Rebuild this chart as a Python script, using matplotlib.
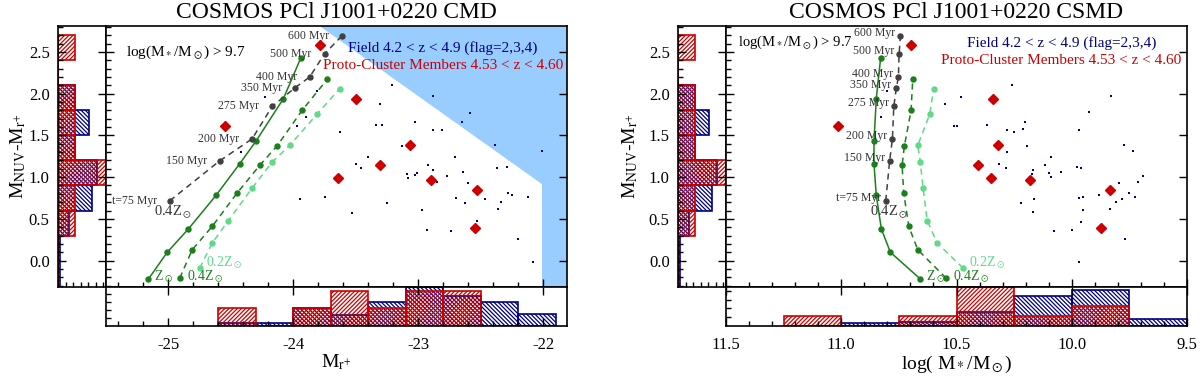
import matplotlib.pyplot as plt
import numpy as np
from matplotlib.ticker import MultipleLocator

plt.rcParams['font.family'] = ['Liberation Serif', 'DejaVu Serif']
plt.rcParams['mathtext.fontset'] = 'stix'
plt.rcParams['hatch.linewidth'] = 0.9

NAVY = '#000080'
RED = '#cc0000'
SKY = '#99ccff'
GREY = '#404040'
DKGREEN = '#1b7f1b'
LTGREEN = '#5fd98a'

# field galaxies, CMD panel (M_r+, colour)
field_mr = [-24.23, -23.81, -23.90, -23.97, -23.63, -24.42, -23.21, -22.88, -23.31, -22.59,
            -22.65, -23.03, -23.34, -23.29, -22.88, -22.81, -22.39, -23.13, -22.01, -23.40,
            -23.50, -23.46, -22.71, -22.92, -22.88, -23.09, -23.08, -23.03, -23.01, -22.77,
            -22.85, -22.64, -22.60, -22.37, -22.29, -23.95, -23.75, -23.53, -23.25, -22.97,
            -22.70, -22.63, -22.47, -22.34, -22.36, -22.28, -22.25, -22.12, -22.53, -22.93,
            -22.74, -22.20, -22.08]
field_col_cmd = [1.959, 2.035, 1.723, 1.615, 1.535, 1.295, 2.103, 1.966, 1.871, 1.771,
                 1.655, 1.663, 1.627, 1.624, 1.567, 1.559, 1.384, 1.367, 1.307, 1.247,
                 1.156, 1.115, 1.247, 1.151, 1.088, 1.040, 0.992, 1.031, 1.055, 1.016,
                 0.944, 1.067, 0.928, 1.108, 1.120, 0.736, 0.760, 0.576, 0.695, 0.608,
                 0.748, 0.695, 0.736, 0.707, 0.616, 0.808, 0.791, 0.767, 0.472, 0.368,
                 0.353, 0.260, -0.016]

# field galaxies, CSMD panel (log M*, colour)
field_mass = [10.258, 10.80, 9.830, 10.480, 10.552, 9.923, 10.829, 10.204, 10.367, 10.512,
              10.497, 10.212, 10.283, 9.968, 10.251, 9.773, 10.193, 9.736, 10.280, 10.091,
              10.316, 10.117, 9.978, 9.961, 10.287, 10.168, 10.048, 10.099, 10.171, 9.693,
              10.088, 9.712, 9.794, 9.751, 9.881, 9.726, 9.952, 9.967, 10.164, 9.784,
              9.806, 10.222, 9.836, 9.953, 10.170, 9.961, 10.001, 10.077, 9.771, 9.967]
field_col_csmd = [2.107, 2.026, 1.966, 1.959, 1.879, 1.775, 1.715, 1.659, 1.627, 1.615,
                  1.615, 1.579, 1.567, 1.559, 1.535, 1.379, 1.367, 1.307, 1.295, 1.247,
                  1.159, 1.147, 1.120, 1.115, 1.108, 1.088, 1.067, 1.055, 1.036, 1.019,
                  1.000, 0.947, 0.928, 0.808, 0.788, 0.767, 0.760, 0.748, 0.736, 0.736,
                  0.707, 0.695, 0.616, 0.608, 0.580, 0.468, 0.368, 0.360, 0.264, -0.012]

# proto-cluster members
pc_mr = [-24.55, -23.79, -23.50, -23.31, -23.64, -23.07, -22.90, -22.53, -22.55]
pc_mass = [11.013, 10.697, 10.342, 10.406, 10.352, 10.320, 10.181, 9.833, 9.874]
pc_col = [1.615, 2.578, 1.930, 1.150, 0.985, 1.387, 0.968, 0.848, 0.392]

# model tracks
ages = [75, 150, 200, 275, 350, 400, 500, 600]
grey_mr = [-24.99, -24.59, -24.33, -24.17, -23.99, -23.87, -23.75, -23.61]
grey_mass = [10.807, 10.790, 10.778, 10.772, 10.761, 10.752, 10.749, 10.743]
grey_col = [0.716, 1.195, 1.459, 1.847, 2.067, 2.199, 2.478, 2.694]

solar_mr = [-25.16, -25.01, -24.84, -24.62, -24.43, -24.30, -24.08, -23.94]
solar_mass = [10.657, 10.787, 10.826, 10.848, 10.858, 10.858, 10.848, 10.829]
solar_col = [-0.22, 0.10, 0.38, 0.78, 1.16, 1.43, 1.94, 2.43]

z04_mr = [-24.91, -24.81, -24.65, -24.45, -24.27, -24.13, -23.93, -23.73]
z04_mass = [10.545, 10.668, 10.707, 10.729, 10.736, 10.726, 10.697, 10.690]
z04_col = [-0.21, 0.13, 0.41, 0.81, 1.14, 1.375, 1.80, 2.17]

z02_mr = [-24.75, -24.65, -24.52, -24.33, -24.17, -24.03, -23.81, -23.63]
z02_mass = [10.471, 10.584, 10.627, 10.645, 10.657, 10.668, 10.616, 10.599]
z02_col = [-0.09, 0.21, 0.48, 0.87, 1.18, 1.38, 1.755, 2.06]

# excluded region in the CMD
region_mr = [-23.79, -22.01, -22.01, -21.81, -21.81]
region_col = [2.81, 0.916, -0.31, -0.31, 2.81]

# normalised histograms
col_edges = [-0.3, 0.0, 0.3, 0.6, 0.9, 1.2, 1.5, 1.8, 2.1, 2.4, 2.7]
col_field_frac = [0.015, 0.015, 0.076, 0.226, 0.261, 0.111, 0.204, 0.111, 0.0, 0.0]
col_pc_frac = [0.0, 0.0, 0.111, 0.111, 0.333, 0.111, 0.111, 0.111, 0.0, 0.111]

mr_edges = [-24.6, -24.3, -24.0, -23.7, -23.4, -23.1, -22.8, -22.5, -22.2, -21.9]
mr_field_frac = [0.016, 0.016, 0.111, 0.069, 0.151, 0.242, 0.189, 0.151, 0.074]
mr_pc_frac = [0.111, 0.0, 0.111, 0.222, 0.111, 0.222, 0.222, 0.0, 0.0]

mass_edges = [11.25, 11.0, 10.75, 10.5, 10.25, 10.0, 9.75, 9.5]
mass_field_frac = [0.0, 0.035, 0.046, 0.162, 0.347, 0.413, 0.078]
mass_pc_frac = [0.111, 0.0, 0.111, 0.444, 0.111, 0.222, 0.0]

YLIM = (-0.31, 2.81)
W, H = 1200, 376


def px_box(x0, y0, x1, y1):
    #pixel box (top-left origin) -> figure fraction rect
    return [x0 / W, 1 - y1 / H, (x1 - x0) / W, (y1 - y0) / H]


def frame(ax):
    for s in ax.spines.values():
        s.set_linewidth(1.2)
    ax.tick_params(which='both', direction='in', width=1.0, labelsize=12)
    ax.tick_params(which='major', length=6)
    ax.tick_params(which='minor', length=3.5)


def hbars(ax, edges, field, pc):
    edges = np.array(edges)
    ax.barh(edges[:-1], field, height=np.diff(edges), align='edge', facecolor='none',
            edgecolor=NAVY, hatch='\\' * 8, linewidth=1.2)
    ax.barh(edges[:-1], pc, height=np.diff(edges), align='edge', facecolor='none',
            edgecolor=RED, hatch='/' * 8, linewidth=1.2)


def vbars(ax, edges, field, pc):
    edges = np.array(edges)
    ax.bar(edges[:-1], field, width=np.diff(edges), align='edge', facecolor='none',
           edgecolor=NAVY, hatch='\\' * 8, linewidth=1.2)
    ax.bar(edges[:-1], pc, width=np.diff(edges), align='edge', facecolor='none',
           edgecolor=RED, hatch='/' * 8, linewidth=1.2)


def track(ax, xs, ys, color, ls):
    ax.plot(xs, ys, color=color, ls=ls, lw=1.1, marker='o', ms=3.6, dashes=(4, 3) if ls == '--' else (None, None))


def panel(fig, x0, xlim, xmajor, xminor, field_x, field_y, pc_x, grey_x, solar_x, z04_x, z02_x,
          mass_panel, title):
    lh = fig.add_axes(px_box(x0 - 48, 26, x0, 286.5))
    ax = fig.add_axes(px_box(x0, 26, x0 + 461, 286.5))
    bh = fig.add_axes(px_box(x0, 286.5, x0 + 461, 325.5))

    # colour histogram on the left
    hbars(lh, col_edges, col_field_frac, col_pc_frac)
    lh.set_xlim(0, 0.319)
    lh.set_ylim(YLIM)
    frame(lh)
    lh.yaxis.set_major_locator(MultipleLocator(0.5))
    lh.yaxis.set_minor_locator(MultipleLocator(0.1))
    lh.set_xticks([])
    lh.set_xticks(np.arange(0.05, 0.31, 0.05), minor=True)
    lh.tick_params(right=True, top=True, labelsize=12, pad=6)

    # main panel
    if not mass_panel:
        ax.fill(region_mr, region_col, color=SKY, lw=0, zorder=0)
    ax.scatter(field_x, field_y, s=3.5, marker='s', color=NAVY, lw=0, zorder=3)
    track(ax, solar_x, solar_col, DKGREEN, '-')
    track(ax, z04_x, z04_col, DKGREEN, '--')
    track(ax, z02_x, z02_col, LTGREEN, '--')
    track(ax, grey_x, grey_col, GREY, '--')
    ax.plot(pc_x, pc_col, ls='none', marker='D', ms=5, color=RED, mec=RED, zorder=4)
    ax.set_xlim(xlim)
    ax.set_ylim(YLIM)
    frame(ax)
    ax.xaxis.set_major_locator(MultipleLocator(xmajor))
    ax.xaxis.set_minor_locator(MultipleLocator(xminor))
    ax.yaxis.set_major_locator(MultipleLocator(0.5))
    ax.yaxis.set_minor_locator(MultipleLocator(0.1))
    ax.tick_params(right=True, labelleft=False, labelbottom=False)

    # age labels on the 0.4 Zsun grey track
    dx, dy = (5, 3) if mass_panel else (13, 0)
    for age, x, y in zip(ages, grey_x, grey_col):
        lab = f't={age} Myr' if age == 75 else f'{age} Myr'
        ax.annotate(lab, (x, y), xytext=(-dx, dy), textcoords='offset pixels',
                    ha='right', va='center', fontsize=8.5, color='#333333')
    ax.annotate(r'0.4Z$_\odot$', (grey_x[0], grey_col[0]), xytext=(3, -12), textcoords='offset pixels',
                ha='center', va='center', fontsize=10.5, color='#333333')
    ax.annotate(r'Z$_\odot$', (solar_x[0], solar_col[0]), xytext=(6, 2), textcoords='offset pixels',
                ha='left', va='center', fontsize=10, color=DKGREEN)
    ax.annotate(r'0.4Z$_\odot$', (z04_x[0], z04_col[0]), xytext=(7, 2), textcoords='offset pixels',
                ha='left', va='center', fontsize=10, color=DKGREEN)
    ax.annotate(r'0.2Z$_\odot$', (z02_x[0], z02_col[0]), xytext=(6, 6), textcoords='offset pixels',
                ha='left', va='center', fontsize=10, color=LTGREEN)

    if mass_panel:
        ax.text(0.025, 0.939, r'log(M$_*$/M$_\odot$) > 9.7', transform=ax.transAxes, fontsize=10.5, va='center')
        ax.text(0.728, 0.934, 'Field 4.2 < z < 4.9 (flag=2,3,4)', transform=ax.transAxes,
                fontsize=11, color=NAVY, ha='center', va='center')
        ax.text(0.728, 0.868, 'Proto-Cluster Members 4.53 < z < 4.60', transform=ax.transAxes,
                fontsize=11, color=RED, ha='center', va='center')
    else:
        ax.text(0.043, 0.899, r'log(M$_*$/M$_\odot$) > 9.7', transform=ax.transAxes, fontsize=11, va='center')
        ax.text(0.731, 0.917, 'Field 4.2 < z < 4.9 (flag=2,3,4)', transform=ax.transAxes,
                fontsize=11, color=NAVY, ha='center', va='center')
        ax.text(0.731, 0.849, 'Proto-Cluster Members 4.53 < z < 4.60', transform=ax.transAxes,
                fontsize=11, color=RED, ha='center', va='center')

    # bottom histogram
    if mass_panel:
        vbars(bh, mass_edges, mass_field_frac, mass_pc_frac)
        bh.set_ylim(0, 0.455)
        minor_y = np.arange(0.1, 0.45, 0.1)
    else:
        vbars(bh, mr_edges, mr_field_frac, mr_pc_frac)
        bh.set_ylim(0, 0.248)
        minor_y = np.arange(0.05, 0.24, 0.05)
    bh.set_xlim(xlim)
    frame(bh)
    bh.set_yticks([])
    bh.set_yticks(minor_y, minor=True)
    bh.xaxis.set_major_locator(MultipleLocator(xmajor))
    bh.xaxis.set_minor_locator(MultipleLocator(xminor))
    bh.tick_params(top=True, right=True, pad=8)
    if mass_panel:
        bh.set_xticklabels([f'{t:.1f}' for t in bh.get_xticks()])
    else:
        bh.set_xticklabels([f'{t:.0f}' for t in bh.get_xticks()])

    fig.text((x0 + 230.5) / W, 1 - 17.5 / H, title, ha='center', va='baseline', fontsize=17)
    return ax


fig = plt.figure(figsize=(12, 3.76), dpi=100)

panel(fig, 106, (-25.5, -21.81), 1, 0.2, field_mr, field_col_cmd, pc_mr, grey_mr, solar_mr, z04_mr, z02_mr,
      False, 'COSMOS PCl J1001+0220 CMD')
panel(fig, 726, (11.5, 9.5), 0.5, 0.1, field_mass, field_col_csmd, pc_mass, grey_mass, solar_mass, z04_mass,
      z02_mass, True, 'COSMOS PCl J1001+0220 CSMD')

ylab = r'M$_{\rm NUV}$-M$_{\rm r^{+}}$'
fig.text(18 / W, 1 - 156 / H, ylab, rotation=90, ha='center', va='center', fontsize=14)
fig.text(630 / W, 1 - 156 / H, ylab, rotation=90, ha='center', va='center', fontsize=14)
fig.text(336.5 / W, 1 - 362 / H, r'M$_{\rm r^{+}}$', ha='center', va='center', fontsize=14)
fig.text(956.5 / W, 1 - 364 / H, r'log( M$_*$/M$_\odot$)', ha='center', va='center', fontsize=14)

fig.savefig('out.png', dpi=100)
